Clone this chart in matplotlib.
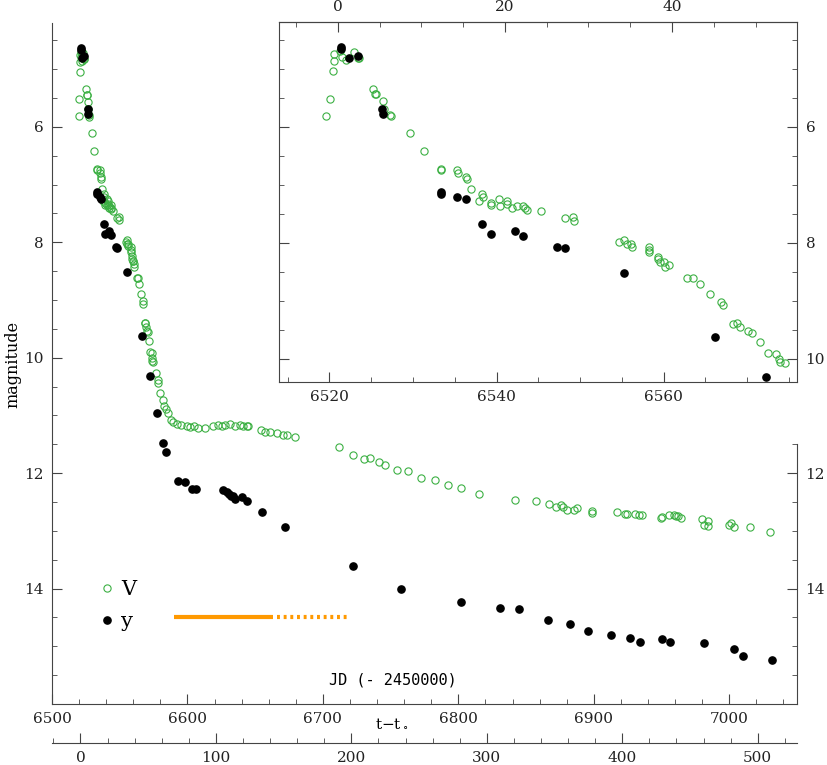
import numpy as np
import matplotlib
matplotlib.use('Agg')
import matplotlib.pyplot as plt
from matplotlib.ticker import MultipleLocator, FixedLocator

# banda V (circulos verdes abiertos), JD - 2450000 y magnitud
jd_V = np.array([6519.6, 6520.1, 6520.4, 6520.5, 6520.6, 6521.3, 6521.5, 6522.0, 6523.0, 6523.4,
                 6523.6, 6525.2, 6525.5, 6525.6, 6526.4, 6526.5, 6527.3, 6527.4, 6529.6, 6531.3,
                 6533.4, 6533.4, 6535.3, 6535.4, 6536.4, 6536.5, 6537.0, 6537.9, 6538.3, 6538.4,
                 6539.3, 6539.4, 6540.3, 6540.4, 6541.2, 6541.3, 6541.9, 6542.4, 6543.2, 6543.4,
                 6543.6, 6545.3, 6548.2, 6549.2, 6549.3, 6554.7, 6555.2, 6555.6, 6556.1, 6556.2,
                 6558.2, 6558.2, 6558.2, 6559.3, 6559.3, 6559.6, 6560.1, 6560.2, 6560.7, 6562.8,
                 6563.5, 6564.4, 6565.5, 6566.9, 6567.1, 6568.3, 6568.8, 6569.2, 6570.1, 6570.6,
                 6571.5, 6572.5, 6573.5, 6573.8, 6573.9, 6574.5, 6576.8, 6578.0, 6578.5, 6579.7,
                 6582.2, 6582.7, 6584.2, 6585.9, 6587.6, 6589.6, 6592.0, 6595.0, 6599.4, 6601.9,
                 6604.8, 6608.0, 6613.0, 6619.1, 6622.8, 6625.3, 6627.7, 6631.4, 6635.1, 6638.8,
                 6641.3, 6643.7, 6644.9, 6654.1, 6657.3, 6660.9, 6665.9, 6670.8, 6673.7, 6679.4,
                 6711.7, 6722.5, 6730.6, 6734.8, 6741.6, 6745.6, 6754.9, 6762.6, 6772.6, 6782.8,
                 6792.6, 6802.0, 6815.5, 6841.6, 6857.5, 6866.7, 6872.3, 6875.6, 6877.5, 6880.5,
                 6885.6, 6887.8, 6898.5, 6898.7, 6917.4, 6923.3, 6924.5, 6930.2, 6933.6, 6935.6,
                 6949.4, 6950.4, 6955.3, 6959.4, 6960.7, 6961.9, 6964.4, 6980.1, 6981.6, 6984.1,
                 6984.5, 6999.8, 7001.3, 7003.3, 7015.1, 7030.1])
mag_V = np.array([5.81, 5.52, 5.04, 4.87, 4.75, 4.70, 4.79, 4.85, 4.72, 4.82,
                  4.82, 5.35, 5.44, 5.44, 5.56, 5.69, 5.79, 5.82, 6.11, 6.42,
                  6.73, 6.75, 6.74, 6.80, 6.87, 6.91, 7.08, 7.28, 7.16, 7.21,
                  7.35, 7.31, 7.25, 7.36, 7.28, 7.33, 7.40, 7.37, 7.36, 7.41,
                  7.43, 7.46, 7.58, 7.56, 7.62, 7.99, 7.96, 8.03, 8.03, 8.07,
                  8.08, 8.13, 8.17, 8.24, 8.29, 8.33, 8.33, 8.42, 8.38, 8.61,
                  8.61, 8.72, 8.89, 9.02, 9.07, 9.40, 9.39, 9.46, 9.53, 9.56,
                  9.71, 9.90, 9.92, 10.00, 10.06, 10.08, 10.27, 10.44, 10.39, 10.61,
                  10.73, 10.84, 10.89, 10.95, 11.08, 11.12, 11.14, 11.16, 11.19, 11.20,
                  11.19, 11.21, 11.21, 11.19, 11.16, 11.19, 11.16, 11.15, 11.18, 11.16,
                  11.19, 11.19, 11.18, 11.25, 11.28, 11.28, 11.30, 11.34, 11.34, 11.37,
                  11.55, 11.68, 11.76, 11.74, 11.80, 11.86, 11.94, 11.96, 12.09, 12.12,
                  12.20, 12.25, 12.36, 12.47, 12.49, 12.54, 12.59, 12.55, 12.59, 12.63,
                  12.64, 12.60, 12.65, 12.69, 12.68, 12.71, 12.70, 12.71, 12.72, 12.72,
                  12.77, 12.76, 12.73, 12.72, 12.75, 12.74, 12.77, 12.80, 12.90, 12.83,
                  12.91, 12.90, 12.86, 12.93, 12.94, 13.02])

# banda y (circulos negros llenos)
jd_y = np.array([6521.4, 6521.4, 6522.3, 6523.4, 6526.3, 6526.4, 6533.3, 6533.4, 6535.3, 6536.3,
                 6538.3, 6539.3, 6542.2, 6543.2, 6547.2, 6548.2, 6555.2, 6566.1, 6572.2, 6577.3,
                 6582.2, 6584.2, 6593.3, 6598.2, 6603.6, 6606.3, 6626.0, 6629.0, 6630.7, 6632.2,
                 6633.9, 6635.1, 6640.0, 6644.2, 6655.0, 6672.2, 6722.5, 6757.4, 6801.7, 6830.5,
                 6844.5, 6866.4, 6882.6, 6895.5, 6912.5, 6926.5, 6934.4, 6950.2, 6956.3, 6981.4,
                 7003.3, 7010.2, 7031.3])
mag_y = np.array([4.63, 4.66, 4.81, 4.78, 5.69, 5.78, 7.12, 7.16, 7.21, 7.25,
                  7.68, 7.85, 7.80, 7.88, 8.08, 8.10, 8.52, 9.63, 10.31, 10.96,
                  11.48, 11.64, 12.13, 12.16, 12.27, 12.27, 12.29, 12.33, 12.36, 12.39,
                  12.39, 12.44, 12.41, 12.49, 12.67, 12.93, 13.60, 14.01, 14.23, 14.34,
                  14.36, 14.55, 14.62, 14.73, 14.80, 14.86, 14.92, 14.87, 14.92, 14.95,
                  15.04, 15.16, 15.23])

t0 = 6521.0                # origen de t - t0
bar_solid = [6590, 6663]   # barra naranja
bar_dotted = [6666, 6719]
bar_mag = 14.5

verde = '#3cb043'
naranja = '#ff9900'
gris = '#444444'

plt.rcParams['font.family'] = 'DejaVu Serif'
plt.rcParams['mathtext.fontset'] = 'dejavuserif'
plt.rcParams['font.size'] = 11

fig = plt.figure(figsize=(8.28, 7.65), dpi=100)

def estilo(a):
    for s in a.spines.values():
        s.set_color(gris)
    a.tick_params(which='both', direction='in', color=gris, labelcolor='#222222', pad=6)
    a.tick_params(which='major', length=7.5)
    a.tick_params(which='minor', length=3.5)

def puntos(a):
    a.plot(jd_V, mag_V, 'o', mfc='none', mec=verde, ms=5.2, mew=0.8, label='V')
    a.plot(jd_y, mag_y, 'o', color='k', ms=5.2, label='y')

# ---- grafica principal ----
ax = fig.add_axes([0.0628, 0.0797, 0.8998, 0.8902])
puntos(ax)
ax.plot(bar_solid, [bar_mag, bar_mag], color=naranja, lw=3, solid_capstyle='butt')
ax.plot(bar_dotted, [bar_mag, bar_mag], color=naranja, lw=3, ls=(0, (0.7, 0.9)),
        dash_capstyle='butt')
ax.set_xlim(6500, 7050)
ax.set_ylim(16, 4.2)
ax.xaxis.set_major_locator(FixedLocator([6500, 6600, 6700, 6800, 6900, 7000]))
ax.xaxis.set_minor_locator(MultipleLocator(20))
ax.yaxis.set_major_locator(FixedLocator([6, 8, 10, 12, 14]))
ax.yaxis.set_minor_locator(MultipleLocator(0.5))
estilo(ax)
ax.spines['top'].set_visible(False)
ax.spines['right'].set_visible(False)
ax.tick_params(top=False, right=False)

# eje derecho solo debajo del recuadro
der = ax.secondary_yaxis('right')
der.yaxis.set_major_locator(FixedLocator([12, 14]))
der.yaxis.set_minor_locator(FixedLocator([11.5, 12.5, 13, 13.5, 14.5, 15, 15.5]))
estilo(der)
der.spines['right'].set_bounds(11.5, 16)

# eje t - t0 abajo
tax = ax.secondary_xaxis(-0.0573, functions=(lambda x: x - t0, lambda t: t + t0))
tax.xaxis.set_major_locator(FixedLocator([0, 100, 200, 300, 400, 500]))
tax.xaxis.set_minor_locator(FixedLocator(np.arange(-20, 521, 20)))
estilo(tax)

fig.text(0.016, 0.523, 'magnitude', rotation=90, ha='center', va='center', size=11.5)
ax.text(0.5436, 0.0352, 'JD (- 2450000)', transform=ax.transAxes, ha='right', va='center',
        family='DejaVu Sans Mono', size=11)
ax.text(0.456, -0.029, 't$-$t$_\\circ$', transform=ax.transAxes, ha='center', va='center',
        size=11)

ax.legend(loc='center left', bbox_to_anchor=(0.0623, 0.1445), frameon=False, fontsize=15,
          handlelength=0.8, handletextpad=0.3, labelspacing=0.6, borderpad=0,
          borderaxespad=0, numpoints=1)

# ---- recuadro: primeros dias ----
ins = fig.add_axes([0.3373, 0.5010, 0.6256, 0.4698])
puntos(ins)
ins.set_xlim(6514, 6576)
ins.set_ylim(10.4, 4.2)
ins.xaxis.set_major_locator(FixedLocator([6520, 6540, 6560]))
ins.xaxis.set_minor_locator(MultipleLocator(5))
ins.yaxis.set_major_locator(FixedLocator([6, 8, 10]))
ins.yaxis.set_minor_locator(MultipleLocator(0.5))
estilo(ins)
ins.tick_params(axis='y', which='both', left=True, right=True, labelleft=False, labelright=True)
ins.tick_params(axis='x', which='both', top=False)

tins = ins.secondary_xaxis('top', functions=(lambda x: x - t0, lambda t: t + t0))
tins.xaxis.set_major_locator(FixedLocator([0, 20, 40]))
tins.xaxis.set_minor_locator(FixedLocator(np.arange(-5, 55, 5)))
estilo(tins)

fig.savefig('out.png', dpi=100)
